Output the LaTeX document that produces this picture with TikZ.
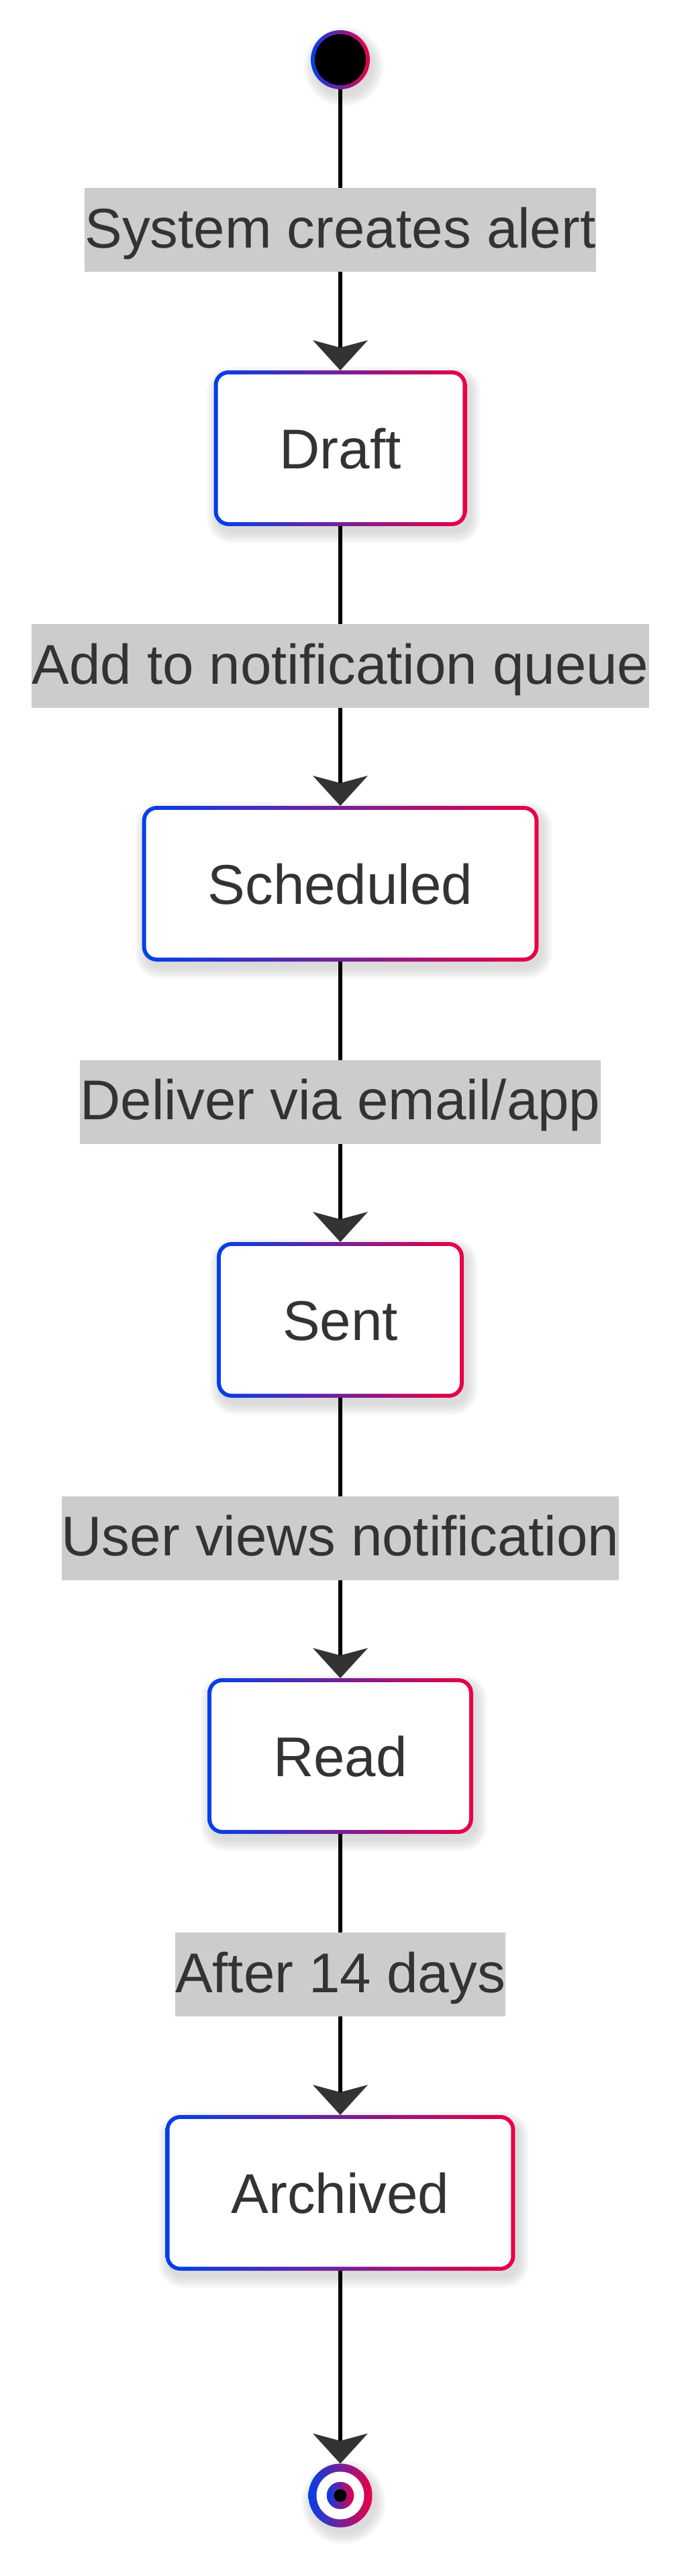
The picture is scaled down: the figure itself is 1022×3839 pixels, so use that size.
\documentclass[tikz,border=0pt]{standalone}
\usepackage{fontspec}
\setmainfont{Liberation Sans}
\usetikzlibrary{arrows.meta,backgrounds,calc}
\definecolor{gblue}{RGB}{0,64,235}
\definecolor{gred}{RGB}{235,0,68}
\definecolor{txt}{RGB}{51,51,51}
\definecolor{lblbg}{RGB}{204,204,204}
\definecolor{shd}{RGB}{185,185,185}
\definecolor{tipc}{RGB}{51,51,51}
\begin{document}
\begin{tikzpicture}[x=1pt,y=-1pt,
  every node/.style={font=\fontsize{83.5}{100}\selectfont, text=txt},
  statebox/.style={rectangle, inner xsep=98pt, inner ysep=0pt, minimum height=232pt, text height=61pt, text depth=0pt, outer sep=0pt},
  lbl/.style={rectangle, fill=lblbg, inner xsep=0pt, inner ysep=0pt, minimum height=125pt, text height=60pt, text depth=7pt, outer sep=0pt},
  edge/.style={line width=6pt, draw=black, -{Stealth[length=45pt,width=82pt,inset=11pt,line width=0pt,color=tipc]}},
  startnode/.style={circle, minimum size=88pt, inner sep=0pt, outer sep=0pt},
  endnode/.style={circle, minimum size=95pt, inner sep=0pt, outer sep=0pt}]
\useasboundingbox (0,0) rectangle (1022,3839);

\node[startnode] (start) at (507,89) {};
\node[statebox] (draft) at (507,668) {Draft};
\node[statebox] (sched) at (507,1317) {Scheduled};
\node[statebox] (sent) at (507,1967) {Sent};
\node[statebox] (read) at (507,2617) {Read};
\node[statebox] (arch) at (507,3268) {Archived};
\node[endnode] (end) at (507,3719) {};

\draw[edge] (start) -- node[lbl]{System creates alert} (draft);
\draw[edge] (draft) -- node[lbl]{Add to notification queue} (sched);
\draw[edge] (sched) -- node[lbl]{Deliver via email/app} (sent);
\draw[edge] (sent) -- node[lbl]{User views notification} (read);
\draw[edge] (read) -- node[lbl]{After 14 days} (arch);
\draw[edge] (arch) -- (end);

\begin{scope}[on background layer]
  \fill[white] (0,0) rectangle (1022,3839);
  \foreach \n in {draft,sched,sent,read,arch}{
    \foreach \k in {0,...,5}{
      \pgfmathsetmacro\ee{3*\k}
      \pgfmathsetmacro\rr{22+3*\k}
      \fill[shd, opacity=0.1, rounded corners=\rr pt]
        ([shift={(5pt-\ee pt,-10pt-\ee pt)}]\n.south west) rectangle
        ([shift={(5pt+\ee pt,-10pt+\ee pt)}]\n.north east);
    }
    \shade[left color=gblue, right color=gred, rounded corners=22pt]
      (\n.south west) rectangle (\n.north east);
    \fill[white, rounded corners=16pt]
      ([shift={(6pt,6pt)}]\n.south west) rectangle ([shift={(-6pt,-6pt)}]\n.north east);
  }
  \foreach \k in {0,...,5}{
    \pgfmathsetmacro\ee{3*\k}
    \fill[shd, opacity=0.1] ([shift={(5pt,-10pt)}]start.center) circle[radius=44pt+\ee pt];
    \fill[shd, opacity=0.1] ([shift={(5pt,-10pt)}]end.center) circle[radius=47.5pt+\ee pt];
  }
  \shade[left color=gblue, right color=gred] (start.center) circle[radius=44pt];
  \fill[black] (start.center) circle[radius=38pt];
  \shade[left color=gblue, right color=gred] (end.center) circle[radius=47.5pt];
  \fill[white] (end.center) circle[radius=35.5pt];
  \shade[left color=gblue, right color=gred] (end.center) circle[radius=20.3pt];
  \fill[black] (end.center) circle[radius=9.5pt];
\end{scope}
\end{tikzpicture}
\end{document}
